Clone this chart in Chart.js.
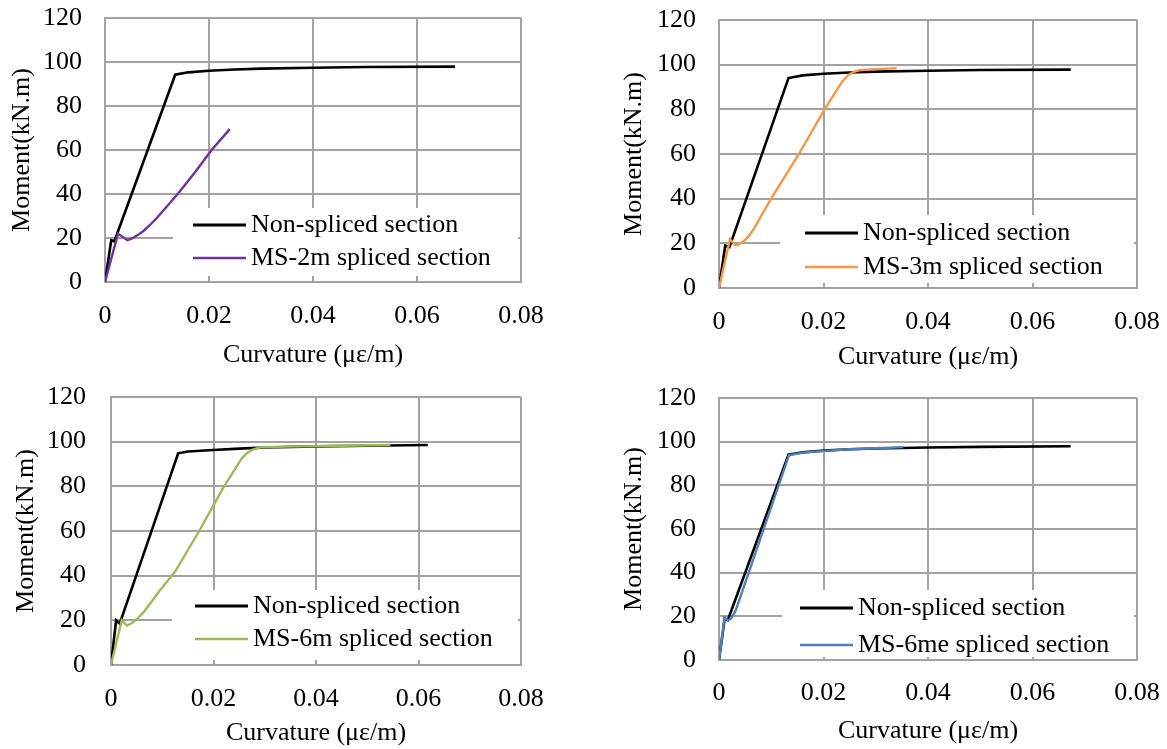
<!DOCTYPE html>
<html>
<head>
<meta charset="utf-8">
<script src="https://cdn.jsdelivr.net/npm/chart.js@4.4.1/dist/chart.umd.min.js"></script>
<style>
  body { margin: 0; background: #fff; }
  #wrap { position: relative; width: 1167px; height: 749px; }
  #wrap canvas { position: absolute; }
</style>
</head>
<body>
<div id="wrap">
  <canvas id="c1" width="583" height="375" style="left:0;top:0"></canvas>
  <canvas id="c2" width="584" height="375" style="left:583px;top:0"></canvas>
  <canvas id="c3" width="583" height="374" style="left:0;top:375px"></canvas>
  <canvas id="c4" width="584" height="374" style="left:583px;top:375px"></canvas>
</div>
<script>
// ---- datos ----
const nonSplicedLabel = "Non-spliced section";
const splicedLabels = ["MS-2m spliced section", "MS-3m spliced section", "MS-6m spliced section", "MS-6me spliced section"];

// Non-spliced (una curva por panel)
const nonCurv1 = [0, 0.0012, 0.0018, 0.0135, 0.016, 0.02, 0.025, 0.03, 0.04, 0.05, 0.0673];
const nonMom1  = [0, 19, 18.5, 94.2, 95.3, 96, 96.6, 97, 97.4, 97.7, 97.9];
const nonCurv2 = [0, 0.0012, 0.002, 0.0133, 0.016, 0.02, 0.025, 0.03, 0.04, 0.05, 0.0673];
const nonMom2  = [0, 19, 18.3, 94, 95.2, 95.9, 96.5, 96.9, 97.3, 97.6, 97.8];
const nonCurv3 = [0, 0.001, 0.0017, 0.0131, 0.015, 0.02, 0.025, 0.03, 0.04, 0.05, 0.0618];
const nonMom3  = [0, 20, 18.5, 94.8, 95.6, 96.3, 96.9, 97.4, 97.9, 98.2, 98.5];
const nonCurv4 = [0, 0.0011, 0.0017, 0.0133, 0.016, 0.02, 0.025, 0.03, 0.04, 0.05, 0.0673];
const nonMom4  = [0, 19.2, 18.3, 94.1, 95.1, 95.9, 96.5, 96.9, 97.3, 97.6, 97.9];

// Spliced
const ms2Curv  = [0, 0.0025, 0.0043, 0.0052, 0.0062, 0.0074, 0.0086, 0.01, 0.0116, 0.0141, 0.0175, 0.0205, 0.024];
const ms2Mom   = [0, 22, 19, 19.8, 21.2, 23.2, 25.8, 29.2, 33.5, 40.3, 50.5, 60, 69.5];
const ms3Curv  = [0, 0.0021, 0.0032, 0.0039, 0.0047, 0.0057, 0.0068, 0.0082, 0.0101, 0.0153, 0.0202, 0.0236, 0.0247, 0.0257, 0.0268, 0.029, 0.034];
const ms3Mom   = [0, 21.8, 19.1, 19.6, 20.9, 23.2, 27, 32.8, 40.5, 60, 80, 92.5, 95.3, 96.7, 97.5, 97.9, 98.4];
const ms6Curv  = [0, 0.0021, 0.0031, 0.0041, 0.0052, 0.0064, 0.0078, 0.0094, 0.0111, 0.0126, 0.0172, 0.0218, 0.0255, 0.0265, 0.0276, 0.0292, 0.035, 0.045, 0.0545];
const ms6Mom   = [0, 20.1, 17.7, 18.8, 20.9, 23.8, 28, 33, 37.8, 42.2, 60, 79, 92.5, 94.8, 96.5, 97.5, 97.8, 98.2, 98.5];
const ms6eCurv = [0, 0.00105, 0.0017, 0.0023, 0.0032, 0.0134, 0.016, 0.02, 0.025, 0.03, 0.0353];
const ms6eMom  = [0, 19.4, 18.2, 18.9, 22.7, 93.8, 95, 95.8, 96.5, 97, 97.5];

const splicedColors = ["#7030A0", "#F79646", "#9BBB59", "#4F81BD"];

// Ejes
const xMax = 0.08, xStep = 0.02;
const yMax = 120, yStep = 20;

const FONT_FAMILY = "'Liberation Serif', 'Times New Roman', serif";
const FONT_SIZE = 26;
const GRID = "#a2a2a2";

// Geometría de cada panel (área de trazado en px del canvas)
const PANELS = [
  { id: "c1", curv: nonCurv1, mom: nonMom1, sCurv: ms2Curv,  sMom: ms2Mom,
    area: { l: 105, t: 18, r: 521, b: 282 }, yTitlePad: 7,  yTickPad: 23, xTickPad: 18.5, xTitlePad: 4,
    lg: { left: 173, top: 208, bottom: 276, sx: 193, rows: [225, 258] } },
  { id: "c2", curv: nonCurv2, mom: nonMom2, sCurv: ms3Curv,  sMom: ms3Mom,
    area: { l: 136, t: 20, r: 554, b: 288 }, yTitlePad: 36, yTickPad: 23, xTickPad: 19, xTitlePad: 2,
    lg: { left: 197, top: 215, bottom: 283, sx: 222, rows: [233, 267] } },
  { id: "c3", curv: nonCurv3, mom: nonMom3, sCurv: ms6Curv,  sMom: ms6Mom,
    area: { l: 111, t: 22, r: 521, b: 290 }, yTitlePad: 11, yTickPad: 25, xTickPad: 18.5, xTitlePad: 0,
    lg: { left: 172, top: 215, bottom: 285, sx: 195, rows: [231, 264] } },
  { id: "c4", curv: nonCurv4, mom: nonMom4, sCurv: ms6eCurv, sMom: ms6eMom,
    area: { l: 136, t: 23, r: 554, b: 285 }, yTitlePad: 36, yTickPad: 23, xTickPad: 18, xTitlePad: 2,
    lg: { left: 199, top: 215, bottom: 282, sx: 217, rows: [233, 270] } }
];

const toPoints = (xs, ys) => xs.map((x, i) => ({ x, y: ys[i] }));

// Leyenda dentro del área de trazado, con fondo blanco
const insideLegend = {
  id: "insideLegend",
  afterDraw(chart, args, opts) {
    const ctx = chart.ctx;
    const a = chart.chartArea;
    ctx.save();
    ctx.fillStyle = "#fff";
    ctx.fillRect(opts.left, opts.top, a.right - 3 - opts.left, opts.bottom - opts.top);
    chart.data.datasets.forEach((ds, i) => {
      const y = opts.rows[i];
      ctx.strokeStyle = ds.borderColor;
      ctx.lineWidth = i === 0 ? 3 : 2.3;
      ctx.beginPath();
      ctx.moveTo(opts.sx, y);
      ctx.lineTo(opts.sx + 53, y);
      ctx.stroke();
      ctx.fillStyle = "#000";
      ctx.font = FONT_SIZE + "px " + FONT_FAMILY;
      ctx.textBaseline = "middle";
      ctx.textAlign = "left";
      ctx.fillText(ds.label, opts.sx + 58, y);
    });
    ctx.restore();
  }
};

function crearPanel(p, idx) {
  const canvas = document.getElementById(p.id);
  const W = canvas.width, H = canvas.height;
  return new Chart(canvas, {
    type: "line",
    data: {
      datasets: [
        {
          label: nonSplicedLabel,
          data: toPoints(p.curv, p.mom),
          borderColor: "#000",
          borderWidth: 2.6,
          pointRadius: 0,
          tension: 0,
          order: 1
        },
        {
          label: splicedLabels[idx],
          data: toPoints(p.sCurv, p.sMom),
          borderColor: splicedColors[idx],
          borderWidth: 2.4,
          pointRadius: 0,
          tension: 0,
          order: 0
        }
      ]
    },
    options: {
      responsive: false,
      animation: false,
      events: [],
      layout: {
        autoPadding: false,
        padding: { left: 0, top: p.area.t, right: W - p.area.r, bottom: 0 }
      },
      plugins: {
        legend: { display: false },
        tooltip: { enabled: false },
        insideLegend: p.lg
      },
      scales: {
        x: {
          type: "linear",
          min: 0, max: xMax,
          grid: { color: GRID, lineWidth: 2, drawTicks: false },
          border: { color: GRID, width: 2 },
          ticks: {
            stepSize: xStep,
            color: "#000",
            padding: p.xTickPad,
            maxRotation: 0,
            font: { family: FONT_FAMILY, size: FONT_SIZE },
            callback: (v) => v === 0 ? "0" : Number(v).toFixed(2)
          },
          title: {
            display: true,
            text: "Curvature (\u03bc\u03b5/m)",
            color: "#000",
            padding: { top: 0, bottom: p.xTitlePad },
            font: { family: FONT_FAMILY, size: FONT_SIZE }
          },
          afterFit: (s) => {
            s.height = H - p.area.b;
            s.paddingLeft = 0; s.paddingRight = 0;
          }
        },
        y: {
          min: 0, max: yMax,
          grid: { color: GRID, lineWidth: 2, drawTicks: false },
          border: { color: GRID, width: 2 },
          ticks: {
            stepSize: yStep,
            color: "#000",
            padding: p.yTickPad,
            font: { family: FONT_FAMILY, size: FONT_SIZE }
          },
          title: {
            display: true,
            text: "Moment(kN.m)",
            color: "#000",
            padding: { top: p.yTitlePad, bottom: 0 },
            font: { family: FONT_FAMILY, size: FONT_SIZE }
          },
          afterFit: (s) => {
            s.width = p.area.l;
            s.paddingTop = 0; s.paddingBottom = 0;
          }
        }
      }
    },
    plugins: [insideLegend]
  });
}

PANELS.forEach(crearPanel);
</script>
</body>
</html>
